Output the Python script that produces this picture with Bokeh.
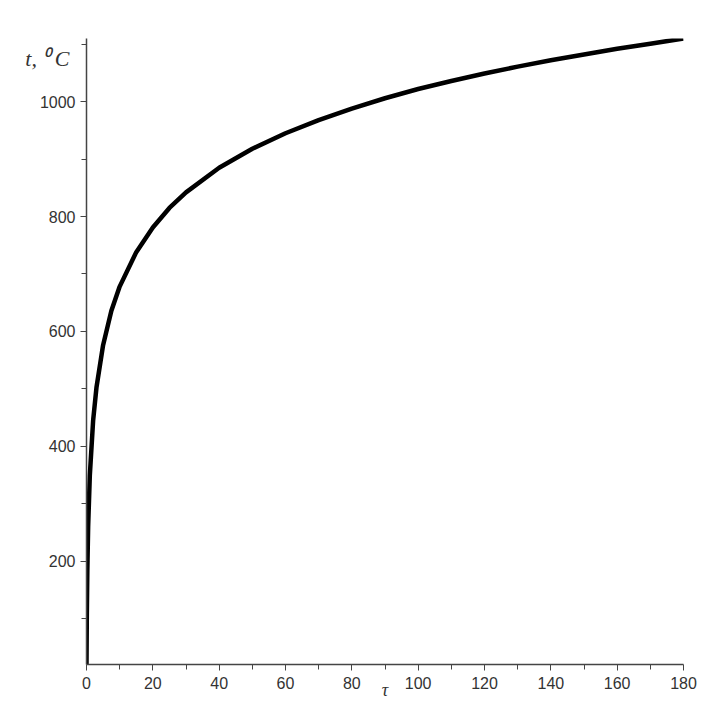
from bokeh.plotting import figure
from bokeh.models import Range1d, FixedTicker, LinearAxis
from bokeh.embed import file_html
from bokeh.resources import INLINE

# time, min
tau = [0, 0.1, 0.25, 0.5, 1, 2, 3, 5, 7.5, 10, 15, 20, 25, 30, 40, 50, 60,
       70, 80, 90, 100, 110, 120, 130, 140, 150, 160, 170, 180]
# temperature, deg C
temp = [20, 108, 184, 261, 349, 445, 502, 576, 636, 678, 738, 781, 815, 842,
        885, 918, 945, 968, 988, 1006, 1022, 1036, 1049, 1061, 1072, 1082,
        1092, 1101, 1110]

x_major = [0, 20, 40, 60, 80, 100, 120, 140, 160, 180]
x_minor = [10, 30, 50, 70, 90, 110, 130, 150, 170]
y_major = [200, 400, 600, 800, 1000]
y_minor = [100, 300, 500, 700, 900, 1100]
x_title = "\u03c4"
y_title = "t, \u2070\u2009C"
y_title_at = 1075

p = figure(width=703, height=703, output_backend="svg", toolbar_location=None,
           x_range=Range1d(0, 180), y_range=Range1d(20, 1110),
           min_border_left=86, min_border_right=20, min_border_top=38,
           min_border_bottom=39)
p.outline_line_color = None
p.grid.visible = False
p.background_fill_color = "white"

p.line(tau, temp, line_width=4.5, line_color="black")

p.xaxis.ticker = FixedTicker(ticks=x_major, minor_ticks=x_minor)
p.yaxis.ticker = FixedTicker(ticks=y_major, minor_ticks=y_minor)
for ax in (p.xaxis, p.yaxis):
    ax.axis_line_color = "#444444"
    ax.axis_line_width = 1.5
    ax.major_tick_line_color = "#444444"
    ax.minor_tick_line_color = "#444444"
    ax.major_tick_in = 0
    ax.major_tick_out = 6
    ax.minor_tick_in = 0
    ax.minor_tick_out = 5
    ax.major_label_text_font = "Liberation Sans"
    ax.major_label_text_font_size = "16px"
    ax.major_label_text_color = "#333333"
p.xaxis.major_label_standoff = 6
p.yaxis.major_label_standoff = 5

p.xaxis.axis_label = x_title
p.xaxis.axis_label_text_font = "Liberation Serif"
p.xaxis.axis_label_text_font_style = "italic"
p.xaxis.axis_label_text_font_size = "18px"
p.xaxis.axis_label_text_color = "#333333"
p.xaxis.axis_label_standoff = -12

# y-axis title drawn as a label-only axis at the top left
ytitle_axis = LinearAxis(ticker=FixedTicker(ticks=[y_title_at]),
                         major_label_overrides={y_title_at: y_title},
                         axis_line_color=None, major_tick_line_color=None,
                         minor_tick_line_color=None, major_tick_out=0,
                         major_tick_in=0, major_label_standoff=-33,
                         major_label_text_font="Liberation Serif",
                         major_label_text_font_style="italic",
                         major_label_text_font_size="22px",
                         major_label_text_color="#333333")
p.add_layout(ytitle_axis, "left")

open("out.html", "w").write(file_html(p, INLINE))
